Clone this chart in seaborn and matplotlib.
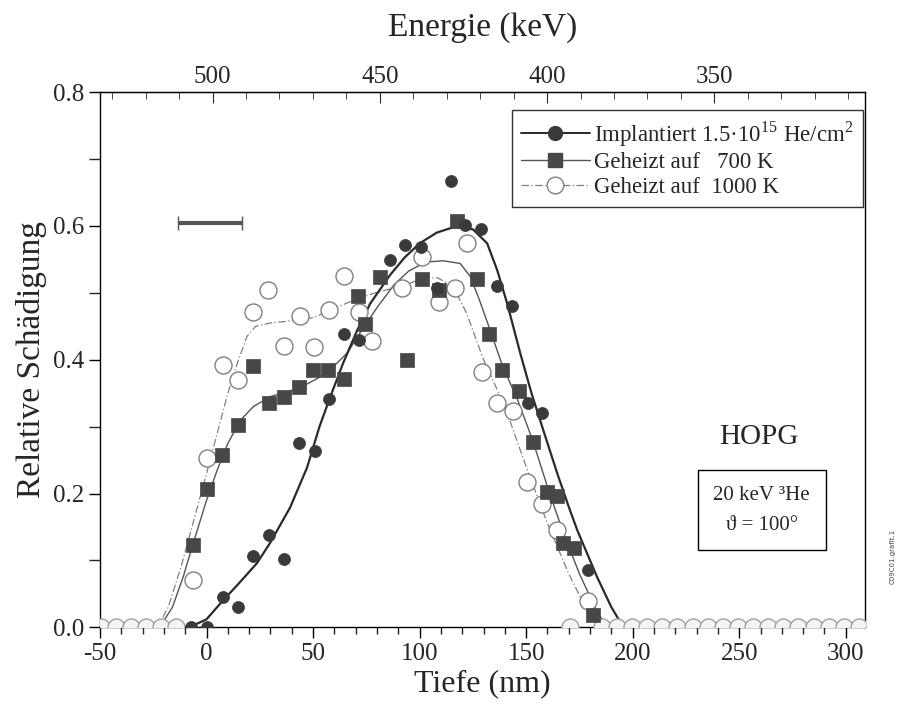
import matplotlib
matplotlib.use('Agg')
import matplotlib.pyplot as plt
import seaborn as sns
import pandas as pd
from matplotlib.lines import Line2D
from matplotlib.ticker import MultipleLocator, FixedLocator

sns.set_style('ticks')
plt.rcParams['font.family'] = ['Liberation Serif', 'DejaVu Serif']
plt.rcParams['mathtext.fontset'] = 'custom'
plt.rcParams['mathtext.rm'] = 'Liberation Serif'
plt.rcParams['axes.unicode_minus'] = False

impl_x = [-7.1, 0.0, 7.7, 14.8, 21.8, 29.3, 36.4, 43.4, 50.9, 57.5, 64.6, 71.6,
          86.2, 93.2, 100.7, 108.2, 114.8, 121.4, 128.9, 136.4, 143.4, 150.9,
          157.5, 179.1]
impl_y = [0.0, 0.0, 0.045, 0.031, 0.106, 0.138, 0.102, 0.275, 0.263, 0.341,
          0.438, 0.43, 0.549, 0.572, 0.569, 0.508, 0.668, 0.601, 0.596, 0.510,
          0.481, 0.335, 0.321, 0.085]

k700_x = [-6.3, 0.2, 7.3, 14.8, 21.8, 29.3, 36.4, 43.4, 50.0, 57.0, 64.6, 71.1,
          74.4, 81.5, 94.1, 101.2, 109.2, 117.6, 127.0, 132.6, 138.7, 146.7,
          153.3, 159.9, 164.6, 167.4, 172.5, 181.5]
k700_y = [0.123, 0.206, 0.257, 0.302, 0.390, 0.335, 0.344, 0.359, 0.384, 0.384,
          0.371, 0.495, 0.454, 0.523, 0.399, 0.520, 0.505, 0.608, 0.520, 0.439,
          0.384, 0.354, 0.277, 0.202, 0.197, 0.126, 0.118, 0.018]

k1000_x = [-6.3, 0.2, 7.7, 14.8, 21.8, 28.9, 36.4, 43.9, 50.5, 57.5, 64.6, 71.6,
           77.7, 91.8, 101.2, 109.2, 116.7, 122.3, 129.3, 136.4, 143.9, 150.5,
           157.5, 164.6, 179.1]
k1000_y = [0.070, 0.253, 0.392, 0.369, 0.471, 0.505, 0.421, 0.466, 0.419, 0.474,
           0.525, 0.471, 0.428, 0.508, 0.553, 0.486, 0.507, 0.574, 0.381, 0.336,
           0.324, 0.217, 0.185, 0.145, 0.040]

# zero-damage points lying on the axis
base_x = [-49.7, -42.6, -35.5, -28.4, -21.3, -14.2,
          170.5, 185.5, 192.6, 199.7, 206.8, 213.9, 221.0, 228.1, 235.2, 242.3,
          249.4, 256.5, 263.6, 270.7, 277.8, 284.9, 292.0, 299.1, 306.2]
base_y = [0.0] * len(base_x)

# fitted curves
fit_impl_x = [-50, -8, 0, 7.7, 15, 23.7, 29.8, 39.2, 47.2, 53, 58, 64.1, 70.7,
              76.8, 86.2, 93, 100, 108, 115.7, 120, 125, 131.7, 136.4, 141.1,
              147.2, 152.5, 158, 164.6, 170, 174, 183.3, 190, 195.6, 309]
fit_impl_y = [0, 0, 0.012, 0.04, 0.065, 0.096, 0.126, 0.179, 0.239, 0.30, 0.344,
              0.395, 0.444, 0.484, 0.527, 0.553, 0.574, 0.590, 0.598, 0.598,
              0.595, 0.574, 0.534, 0.484, 0.41, 0.35, 0.295, 0.23, 0.18, 0.145,
              0.075, 0.03, 0.0, 0]

fit_700_x = [-50, -22, -16, -11, -6.3, 0, 5, 10, 16, 22, 30, 38, 45, 52, 58, 66,
             72, 80, 88, 95, 103, 111, 119, 123.7, 128, 133, 139, 146, 153, 160,
             167, 175, 183, 188, 309]
fit_700_y = [0, 0, 0.03, 0.075, 0.125, 0.19, 0.235, 0.275, 0.31, 0.33, 0.345,
             0.352, 0.36, 0.372, 0.385, 0.41, 0.44, 0.478, 0.512, 0.533, 0.546,
             0.548, 0.544, 0.525, 0.49, 0.445, 0.39, 0.34, 0.28, 0.21, 0.145,
             0.08, 0.025, 0, 0]

fit_1000_x = [-50, -23, -18, -12, -6, 0, 5, 10, 15, 19, 23, 30, 42, 50, 58, 69,
              80, 92, 100, 108, 114, 118, 122, 130, 140, 150, 160, 170, 177, 183,
              186, 309]
fit_1000_y = [0, 0, 0.03, 0.09, 0.16, 0.23, 0.29, 0.35, 0.40, 0.435, 0.45, 0.455,
              0.459, 0.463, 0.474, 0.489, 0.501, 0.51, 0.52, 0.523, 0.513, 0.495,
              0.47, 0.40, 0.33, 0.24, 0.155, 0.08, 0.035, 0.005, 0, 0]

# depth resolution bar
bar_x = [1.6]
bar_y = [0.605]
bar_err = [15]

energy_ticks = [500, 450, 400, 350]
energy_minor = [530, 520, 510, 490, 480, 470, 460, 440, 430, 420, 410, 390, 380,
                370, 360, 340, 330, 320, 310]

impl = pd.DataFrame({'x': impl_x, 'y': impl_y})
k700 = pd.DataFrame({'x': k700_x, 'y': k700_y})
k1000 = pd.DataFrame({'x': k1000_x, 'y': k1000_y})
base = pd.DataFrame({'x': base_x, 'y': base_y})
f_impl = pd.DataFrame({'x': fit_impl_x, 'y': fit_impl_y})
f_700 = pd.DataFrame({'x': fit_700_x, 'y': fit_700_y})
f_1000 = pd.DataFrame({'x': fit_1000_x, 'y': fit_1000_y})

fig = plt.figure(figsize=(9.01, 7.04), dpi=100)
ax = fig.add_axes([0.111, 0.109, 0.849, 0.760])

c_impl = '#3a3a3a'
c_700 = '#474747'
c_1000 = '#808080'

sns.lineplot(data=f_1000, x='x', y='y', ax=ax, sort=False, estimator=None,
             color=c_1000, lw=0.9, linestyle=(0, (6, 2, 1, 2)), zorder=2)
sns.lineplot(data=f_700, x='x', y='y', ax=ax, sort=False, estimator=None,
             color='#555555', lw=1.0, zorder=2)
sns.lineplot(data=f_impl, x='x', y='y', ax=ax, sort=False, estimator=None,
             color='#2a2a2a', lw=1.6, zorder=2)

# points on the axis: only the upper half of each shows
sns.scatterplot(data=base, x='x', y='y', ax=ax, marker='o', s=150,
                facecolor='#f4f4f4', edgecolor='#a0a0a0', linewidth=1.0,
                zorder=3)
sns.scatterplot(data=k1000, x='x', y='y', ax=ax, marker='o', s=150,
                facecolor='white', edgecolor=c_1000, linewidth=1.0, zorder=3)
sns.scatterplot(data=k700, x='x', y='y', ax=ax, marker='s', s=105,
                color=c_700, edgecolor=c_700, linewidth=0.5, zorder=4)
sns.scatterplot(data=impl, x='x', y='y', ax=ax, marker='o', s=75,
                color=c_impl, edgecolor=c_impl, linewidth=0.5, zorder=5)
for coll in ax.collections:
    coll.set_clip_on(True)
    coll.set_clip_box(ax.bbox)

ax.errorbar(bar_x, bar_y, xerr=bar_err, fmt='none', ecolor='#555555',
            elinewidth=3, capsize=5, capthick=1, zorder=4)

ax.set_xlim(-50, 309)
ax.set_ylim(0, 0.8)
ax.xaxis.set_major_locator(MultipleLocator(50))
ax.xaxis.set_minor_locator(MultipleLocator(10))
ax.yaxis.set_minor_locator(MultipleLocator(0.1))
ax.set_yticks([0.0, 0.2, 0.4, 0.6, 0.8])
ax.set_yticklabels(['0.0', '0.2', '0.4', '0.6', '0.8'])
ax.tick_params(axis='both', which='major', labelsize=18, length=8, width=1,
               direction='out', color='black', top=False, right=False)
ax.tick_params(axis='x', which='minor', length=5, width=1, direction='out')
ax.tick_params(axis='y', which='minor', length=8, width=1, direction='out')
ax.set_xlabel('Tiefe (nm)', fontsize=23, labelpad=3)
ax.set_ylabel('Relative Schädigung', fontsize=24, labelpad=4)
for s in ax.spines.values():
    s.set_color('black')
    s.set_linewidth(1.0)

secax = ax.secondary_xaxis('top', functions=(lambda d: 501.8 - 0.637 * d,
                                             lambda e: (501.8 - e) / 0.637))
secax.xaxis.set_major_locator(FixedLocator(energy_ticks))
secax.xaxis.set_minor_locator(FixedLocator(energy_minor))
secax.tick_params(which='major', direction='in', length=8, labelsize=18, pad=3)
secax.tick_params(which='minor', direction='in', length=5)
secax.set_xlabel('Energie (keV)', fontsize=24, labelpad=22)

handles = [
    Line2D([], [], color='#2a2a2a', lw=1.4, marker='o', markersize=10,
           markerfacecolor=c_impl, markeredgecolor=c_impl),
    Line2D([], [], color='#555555', lw=1.0, marker='s', markersize=10,
           markerfacecolor=c_700, markeredgecolor=c_700),
    Line2D([], [], color=c_1000, lw=0.9, linestyle=(0, (6, 2, 1, 2)), marker='o',
           markersize=12, markerfacecolor='white', markeredgecolor=c_1000),
]
labels = ['Implantiert 1.5·10$^{15}$ He/cm$^2$', 'Geheizt auf   700 K',
          'Geheizt auf  1000 K']
leg = ax.legend(handles, labels, loc='upper right', bbox_to_anchor=(0.997, 0.967),
                fontsize=16.5, frameon=True, fancybox=False, edgecolor='black',
                handlelength=3.0, handletextpad=0.2, borderpad=0.4,
                labelspacing=0.15, borderaxespad=0)
leg.get_frame().set_linewidth(1.0)

ax.text(259, 0.284, 'HOPG', fontsize=21, ha='center', va='center')
ax.text(260.5, 0.175, '20 keV ³He\nϑ = 100°', fontsize=15, ha='center',
        va='center', multialignment='center', linespacing=1.8,
        bbox=dict(boxstyle='square,pad=0.75', fc='white', ec='black', lw=1))

fig.text(0.991, 0.21, 'C09C01.grafit.1', rotation=90, fontsize=5,
         ha='center', va='center', color='#444444', family='DejaVu Sans')

fig.savefig('out.png', dpi=100)
